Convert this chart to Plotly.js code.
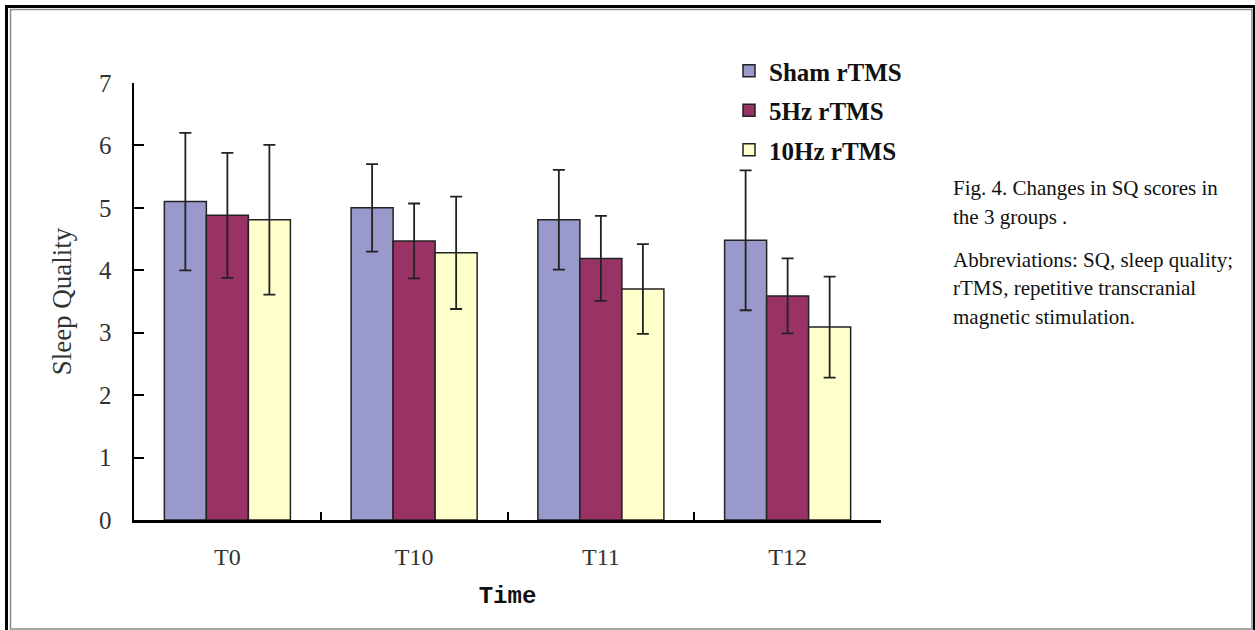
<!DOCTYPE html>
<html>
<head>
<meta charset="utf-8">
<script src="https://cdn.plot.ly/plotly-3.0.1.min.js"></script>
<style>
  html, body { margin: 0; padding: 0; background: #fff; }
  #chart { width: 1255px; height: 630px; }
</style>
</head>
<body>
<div id="chart"></div>
<script>
// ---- data ----
var timePoints = ["T0", "T10", "T11", "T12"];
var seriesNames = ["Sham rTMS", "5Hz rTMS", "10Hz rTMS"];
var shamMean = [5.10, 5.00, 4.81, 4.48];
var shamSD   = [1.10, 0.70, 0.80, 1.12];
var hz5Mean  = [4.88, 4.47, 4.19, 3.59];
var hz5SD    = [1.00, 0.60, 0.68, 0.60];
var hz10Mean = [4.81, 4.28, 3.70, 3.09];
var hz10SD   = [1.20, 0.90, 0.72, 0.81];
var yTickVals = [0, 1, 2, 3, 4, 5, 6, 7];
var captionLines = [
  "Fig. 4. Changes in SQ scores in",
  "the 3 groups .",
  "Abbreviations: SQ, sleep quality;",
  "rTMS, repetitive transcranial",
  "magnetic stimulation."
];

// ---- layout geometry (pixels) ----
var W = 1255, H = 630;
var L = 134, R = 881, T = 83, B = 520;
function px(x) { return (x - L) / (R - L); }
function py(y) { return 1 - (y - T) / (B - T); }

var colors = ["#9999CC", "#993366", "#FFFFCC"];
var means = [shamMean, hz5Mean, hz10Mean];
var sds = [shamSD, hz5SD, hz10SD];

var traces = seriesNames.map(function (name, i) {
  return {
    type: "bar",
    name: name,
    legendgroup: "g" + i,
    x: timePoints,
    y: means[i],
    marker: { color: colors[i], line: { color: "#222222", width: 1.5 } },
    error_y: { type: "data", array: sds[i], visible: true, color: "#222222", thickness: 1.8, width: 6 },
    hoverinfo: "x+y"
  };
});

var serif = "Liberation Serif, Times New Roman, serif";
var captionY = [188, 217, 260, 288, 317];
var annotations = captionLines.map(function (t, i) {
  return {
    text: t, xref: "paper", yref: "paper",
    x: px(951), y: py(captionY[i]), xanchor: "left", yanchor: "middle",
    showarrow: false, align: "left",
    font: { family: serif, size: 21, color: "#111111" }
  };
});

var shapes = [
  { type: "rect", xref: "paper", yref: "paper",
    x0: px(6.5), x1: px(1254.5), y0: py(6.5), y1: py(634),
    line: { color: "#000000", width: 3 }, fillcolor: "rgba(0,0,0,0)", layer: "above" },
  { type: "rect", xref: "paper", yref: "paper",
    x0: px(10.5), x1: px(1252), y0: py(9.5), y1: py(629),
    line: { color: "#8a8a8a", width: 1.5 }, fillcolor: "rgba(0,0,0,0)", layer: "above" }
];

var layout = {
  width: W, height: H,
  margin: { l: L, r: W - R, t: T, b: H - B, pad: 0 },
  paper_bgcolor: "#ffffff", plot_bgcolor: "#ffffff",
  barmode: "group", bargap: 0.325, bargroupgap: 0,
  showlegend: true,
  legend: {
    x: px(729), y: py(48), xanchor: "left", yanchor: "top",
    font: { family: serif, size: 25, color: "#111111", weight: 700 },
    tracegroupgap: 4, bgcolor: "rgba(0,0,0,0)", traceorder: "grouped"
  },
  xaxis: {
    type: "category", showline: true, linecolor: "#000000", linewidth: 2.5,
    ticks: "inside", tickson: "boundaries", ticklen: 8, tickwidth: 2, tickcolor: "#000000",
    showgrid: false, zeroline: false, ticklabelstandoff: 14,
    tickfont: { family: serif, size: 24, color: "#333333" },
    title: { text: "Time", standoff: 17,
             font: { family: "Liberation Mono, Courier New, monospace", size: 24, color: "#111111", weight: 700 } }
  },
  yaxis: {
    range: [0, 7], tickvals: yTickVals, showline: true, linecolor: "#000000", linewidth: 2.5,
    ticks: "inside", ticklen: 10, tickwidth: 2, tickcolor: "#000000",
    showgrid: false, zeroline: false, ticklabelstandoff: 15,
    tickfont: { family: serif, size: 25, color: "#333333" },
    title: { text: "Sleep Quality", standoff: 20, font: { family: serif, size: 27, color: "#333333" } }
  },
  annotations: annotations,
  shapes: shapes
};

Plotly.newPlot("chart", traces, layout, { displayModeBar: false, staticPlot: true });
</script>
</body>
</html>
